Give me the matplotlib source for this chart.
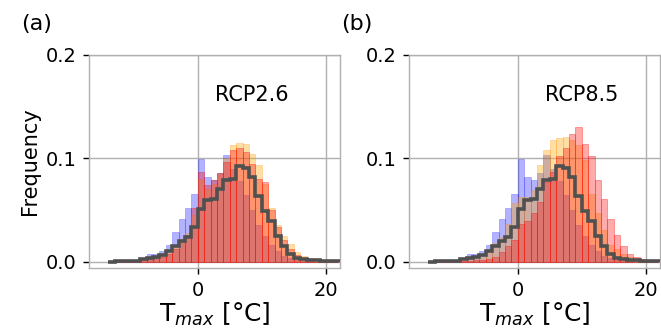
import numpy as np
import matplotlib
matplotlib.use("Agg")
import matplotlib.pyplot as plt

# bin edges (1 degC bins)
bin_edges = np.arange(-14, 23, 1)          # -14 ... 22
centers = bin_edges[:-1] + 0.5             # 36 bins, left edges -14..21

# Frequencies per bin (left edge -14 .. 21)
obs_grey   = [0.000, 0.001, 0.001, 0.001, 0.001, 0.003, 0.004, 0.005, 0.007, 0.010, 0.015, 0.020, 0.024, 0.034, 0.051, 0.060, 0.061, 0.070, 0.079, 0.080, 0.093, 0.091, 0.082, 0.064, 0.049, 0.039, 0.025, 0.015, 0.008, 0.004, 0.003, 0.002, 0.002, 0.001, 0.001, 0.001]
hist_blue  = [0.000, 0.001, 0.001, 0.002, 0.002, 0.003, 0.008, 0.008, 0.010, 0.016, 0.029, 0.041, 0.052, 0.066, 0.099, 0.082, 0.079, 0.086, 0.103, 0.090, 0.078, 0.065, 0.050, 0.036, 0.025, 0.016, 0.010, 0.006, 0.004, 0.002, 0.001, 0.001, 0.000, 0.000, 0.000, 0.000]

rcp26_orange = [0.000, 0.000, 0.001, 0.001, 0.001, 0.002, 0.003, 0.004, 0.006, 0.009, 0.014, 0.022, 0.028, 0.045, 0.080, 0.070, 0.075, 0.085, 0.100, 0.113, 0.115, 0.114, 0.104, 0.094, 0.075, 0.052, 0.036, 0.025, 0.017, 0.009, 0.006, 0.004, 0.003, 0.002, 0.001, 0.001]
rcp26_red    = [0.000, 0.000, 0.000, 0.001, 0.001, 0.002, 0.003, 0.004, 0.005, 0.008, 0.012, 0.020, 0.026, 0.052, 0.087, 0.074, 0.079, 0.086, 0.097, 0.108, 0.110, 0.106, 0.095, 0.080, 0.077, 0.050, 0.034, 0.021, 0.012, 0.007, 0.004, 0.003, 0.002, 0.001, 0.001, 0.000]

rcp85_orange = [0.000, 0.000, 0.001, 0.001, 0.001, 0.002, 0.003, 0.005, 0.008, 0.012, 0.018, 0.024, 0.037, 0.057, 0.063, 0.063, 0.069, 0.094, 0.108, 0.118, 0.120, 0.121, 0.118, 0.113, 0.098, 0.066, 0.047, 0.031, 0.016, 0.012, 0.008, 0.005, 0.003, 0.002, 0.001, 0.001]
rcp85_red    = [0.000, 0.000, 0.000, 0.000, 0.000, 0.001, 0.001, 0.002, 0.002, 0.003, 0.005, 0.009, 0.015, 0.021, 0.037, 0.039, 0.047, 0.058, 0.077, 0.087, 0.102, 0.110, 0.124, 0.130, 0.114, 0.102, 0.079, 0.061, 0.041, 0.026, 0.015, 0.008, 0.005, 0.003, 0.001, 0.000]

panel_labels = ["(a)", "(b)"]
scenario_names = ["RCP2.6", "RCP8.5"]
scen_orange = [rcp26_orange, rcp85_orange]
scen_red = [rcp26_red, rcp85_red]
label_x = [8.4, 10.0]

fig = plt.figure(figsize=(6.61, 3.36), dpi=100)
W, H = 661, 336
axes_px = [(89, 340), (409, 660)]
top_px, bot_px = 55, 268

for i in range(2):
    l, r = axes_px[i]
    ax = fig.add_axes([l / W, 1 - bot_px / H, (r - l) / W, (bot_px - top_px) / H])
    ax.hist(centers, bins=bin_edges, weights=hist_blue, color="blue", alpha=0.3,
            edgecolor="blue", linewidth=0.5, zorder=2)
    ax.hist(centers, bins=bin_edges, weights=scen_orange[i], color="orange", alpha=0.36,
            edgecolor="darkorange", linewidth=0.5, zorder=3)
    ax.hist(centers, bins=bin_edges, weights=scen_red[i], color="red", alpha=0.33,
            edgecolor="red", linewidth=0.7, zorder=4)
    ax.hist(centers, bins=bin_edges, weights=obs_grey, histtype="step", color="#505050",
            linewidth=2.6, zorder=5)
    ax.set_xlim(-17.0, 22.2)
    ax.set_ylim(-0.006, 0.2)
    ax.set_xticks([0, 20])
    ax.set_yticks([0.0, 0.1, 0.2])
    ax.set_yticklabels(["0.0", "0.1", "0.2"])
    ax.grid(True, color="#b0b0b0", linewidth=1.0, zorder=0)
    ax.set_axisbelow(True)
    for s in ax.spines.values():
        s.set_color("#b0b0b0")
        s.set_linewidth(1.0)
    ax.tick_params(axis="both", labelsize=14, length=4, width=1, color="black", pad=5)
    ax.set_xlabel("T$_{max}$ [°C]", fontsize=18, labelpad=1)
    ax.text(label_x[i], 0.161, scenario_names[i], fontsize=15, ha="center", va="center", zorder=6)
    fig.text((l - 68) / W, 1 - 24 / H, panel_labels[i], fontsize=16, ha="left", va="center")
    if i == 0:
        ax.set_ylabel("Frequency", fontsize=15, labelpad=4)

fig.savefig("out.png", dpi=100)
